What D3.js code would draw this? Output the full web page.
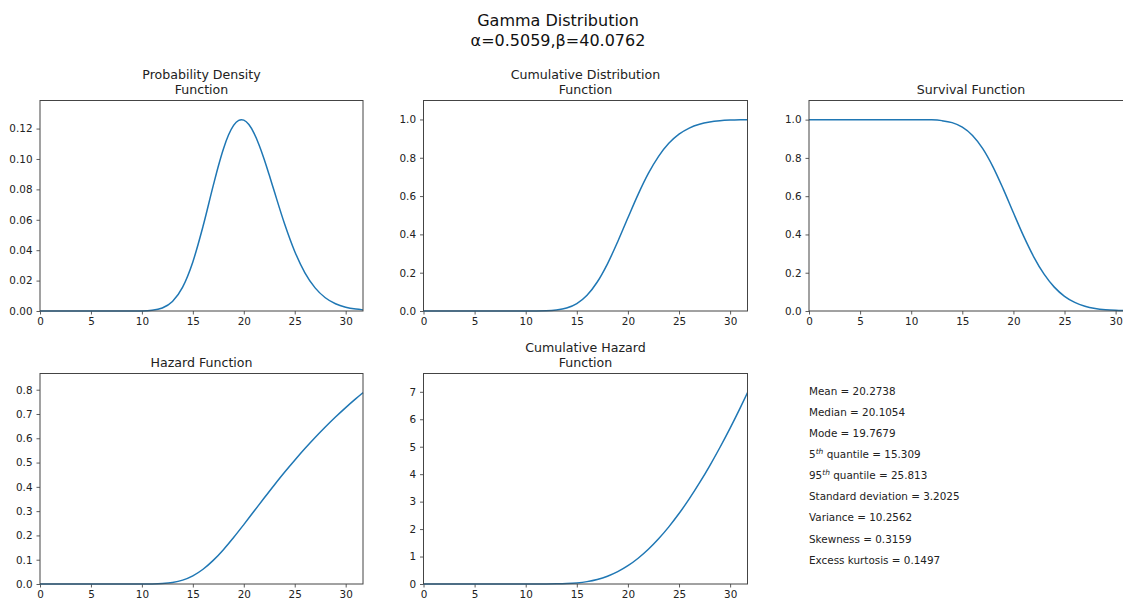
<!DOCTYPE html>
<html>
<head>
<meta charset="utf-8">
<script src="https://cdn.jsdelivr.net/npm/d3@7"></script>
<style>
  html, body { margin: 0; padding: 0; background: #fff; overflow: hidden; }
  svg { display: block; font-family: "DejaVu Sans", sans-serif; }
</style>
</head>
<body>
<svg id="chart" width="1123" height="600"></svg>
<script>
// ---- data ----
const xValues = [0,1,2,3,4,5,6,7,8,9,10,11,12,13,14,15,16,17,18,19,20,21,22,23,24,25,26,27,28,29,30,31,31.7];
const pdfX = [0,1,2,3,4,5,6,7,8,9,10,11,12,13,14,15,16,17,17.5,18,18.5,19,19.5,19.77,20,20.5,21,21.5,22,22.5,23,24,25,26,27,28,29,30,31,31.7];
const pdfValues = [0,0,0,0,0,0,0,0,0,0.00001,0.00008,0.00048,0.00199,0.00627,0.01574,0.0323,0.05571,0.08245,0.09526,0.10662,0.11574,0.12213,0.12543,0.12588,0.12554,0.12263,0.11703,0.10924,0.09984,0.08942,0.07856,0.0574,0.03919,0.02514,0.01522,0.00873,0.00477,0.00248,0.00124,0.00074];
const cdfValues = [0,0,0,0,0,0,0,0,0,0,0.00004,0.00028,0.00117,0.0052,0.01567,0.03902,0.08252,0.15148,0.24648,0.36175,0.48676,0.609,0.71803,0.80741,0.87523,0.92311,0.95491,0.97476,0.9865,0.99307,0.99658,0.99838,0.99906];
const sfValues = [1,1,1,1,1,1,1,1,1,1,0.99996,0.99972,0.99883,0.9948,0.98433,0.96098,0.91748,0.84852,0.75352,0.63825,0.51324,0.391,0.28197,0.19259,0.12477,0.07689,0.04509,0.02524,0.0135,0.00693,0.00342,0.00162,0.00094];
const hazardValues = [0,0,0,0,0,0,0,0,0,0.00001,0.00008,0.00048,0.00199,0.00631,0.01599,0.03361,0.06072,0.09717,0.1415,0.19135,0.2446,0.29931,0.35408,0.40791,0.46005,0.50966,0.5575,0.60304,0.64633,0.68738,0.72626,0.76324,0.78794];
const chfValues = [0,0,0,0,0,0,0,0,0,0,0.00004,0.00028,0.00117,0.00521,0.01579,0.0398,0.08613,0.16426,0.283,0.44903,0.66701,0.93905,1.26595,1.64721,2.08128,2.56531,3.09911,3.67929,4.30507,4.97192,5.67822,6.42541,6.96966];

const xTicks = [0,5,10,15,20,25,30];
const pdfTicks = [0,0.02,0.04,0.06,0.08,0.10,0.12];
const cdfTicks = [0,0.2,0.4,0.6,0.8,1.0];
const hazardTicks = [0,0.1,0.2,0.3,0.4,0.5,0.6,0.7,0.8];
const chfTicks = [0,1,2,3,4,5,6,7];

const titleLines = ["Gamma Distribution", "α=0.5059,β=40.0762"];
const statsLines = [
  ["Mean = 20.2738"],
  ["Median = 20.1054"],
  ["Mode = 19.7679"],
  ["5", "th", " quantile = 15.309"],
  ["95", "th", " quantile = 25.813"],
  ["Standard deviation = 3.2025"],
  ["Variance = 10.2562"],
  ["Skewness = 0.3159"],
  ["Excess kurtosis = 0.1497"]
];

// ---- layout ----
const svg = d3.select("#chart");
const lineColor = "#1f77b4";
const tickFont = 10.4;

const panels = [
  {title: ["Probability Density", "Function"], xs: pdfX, values: pdfValues, ticks: pdfTicks, fmt: d3.format(".2f"), x0: 40, x1: 363, y0: 100.5, y1: 311},
  {title: ["Cumulative Distribution", "Function"], xs: xValues, values: cdfValues, ticks: cdfTicks, fmt: d3.format(".1f"), x0: 423.5, x1: 747.5, y0: 100.5, y1: 311},
  {title: ["Survival Function"], xs: xValues, values: sfValues, ticks: cdfTicks, fmt: d3.format(".1f"), x0: 809, x1: 1133, y0: 100.5, y1: 311},
  {title: ["Hazard Function"], xs: xValues, values: hazardValues, ticks: hazardTicks, fmt: d3.format(".1f"), x0: 40, x1: 363, y0: 373.5, y1: 584},
  {title: ["Cumulative Hazard", "Function"], xs: xValues, values: chfValues, ticks: chfTicks, fmt: d3.format("d"), x0: 423.5, x1: 747.5, y0: 373.5, y1: 584}
];

panels.forEach(p => {
  const x = d3.scaleLinear().domain([0, d3.max(p.xs)]).range([p.x0, p.x1]);
  const y = d3.scaleLinear().domain([0, d3.max(p.values) * 1.1]).range([p.y1, p.y0]);
  const g = svg.append("g");

  const xAxis = g.append("g").attr("transform", `translate(0,${p.y1})`)
    .call(d3.axisBottom(x).tickValues(xTicks).tickFormat(d3.format("d")).tickSizeOuter(0).tickSize(3.5).tickPadding(3));
  const yAxis = g.append("g").attr("transform", `translate(${p.x0},0)`)
    .call(d3.axisLeft(y).tickValues(p.ticks).tickFormat(p.fmt).tickSizeOuter(0).tickSize(3.5).tickPadding(4));
  [xAxis, yAxis].forEach(a => {
    a.select(".domain").remove();
    a.selectAll(".tick line").attr("stroke", "#333").attr("stroke-width", 0.8);
    a.selectAll(".tick text").attr("fill", "#222").style("font-size", tickFont + "px").style("font-family", "DejaVu Sans");
  });

  const line = d3.line().x((d, i) => x(p.xs[i])).y(d => y(d)).curve(d3.curveMonotoneX);
  g.append("path").datum(p.values).attr("d", line)
    .attr("fill", "none").attr("stroke", lineColor).attr("stroke-width", 1.5);

  g.append("rect").attr("x", p.x0).attr("y", p.y0).attr("width", p.x1 - p.x0).attr("height", p.y1 - p.y0)
    .attr("fill", "none").attr("stroke", "#444").attr("stroke-width", 1);

  const n = p.title.length;
  p.title.forEach((t, i) => {
    g.append("text").attr("x", (p.x0 + p.x1) / 2).attr("y", p.y0 - 7 - (n - 1 - i) * 15)
      .attr("text-anchor", "middle").style("font-size", "12.6px").attr("fill", "#222").text(t);
  });
});

// super title
titleLines.forEach((t, i) => {
  svg.append("text").attr("x", 558).attr("y", 26 + i * 20).attr("text-anchor", "middle")
    .style("font-size", "16px").attr("fill", "#111").text(t);
});

// statistics text
statsLines.forEach((parts, i) => {
  const t = svg.append("text").attr("x", 809).attr("y", 394.5 + i * 21.15)
    .style("font-size", "10.4px").attr("fill", "#222");
  if (parts.length === 1) {
    t.text(parts[0]);
  } else {
    t.append("tspan").text(parts[0]);
    t.append("tspan").attr("dy", -4).style("font-size", "7.5px").style("font-style", "italic").text(parts[1]);
    t.append("tspan").attr("dy", 4).text(parts[2]);
  }
});
</script>
</body>
</html>
